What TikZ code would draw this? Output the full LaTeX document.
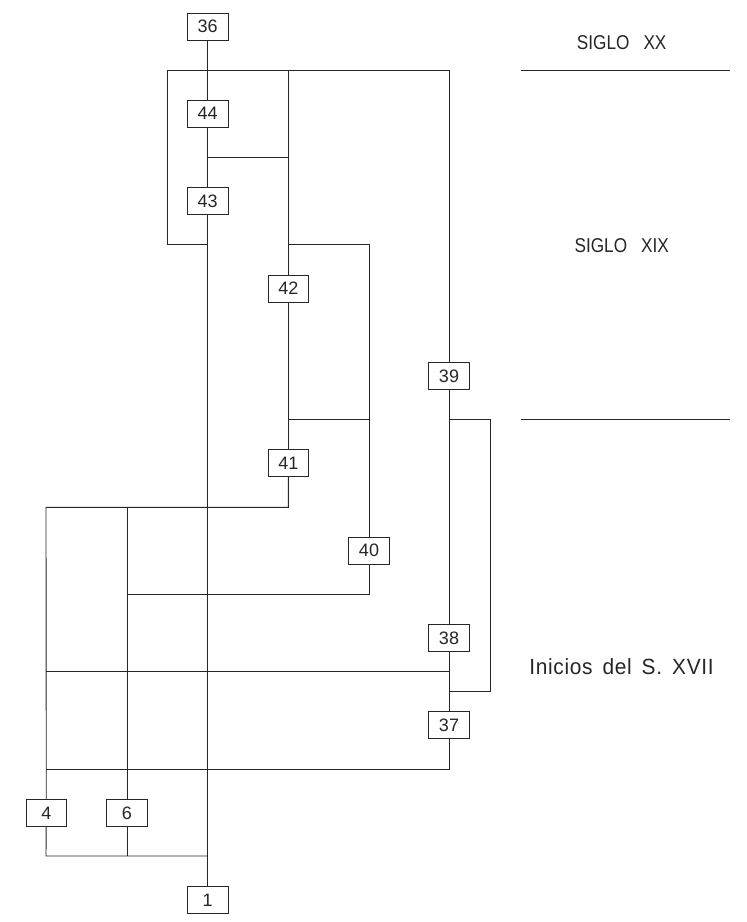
\documentclass[tikz,border=0pt]{standalone}
\usepackage{fontspec}
\setmainfont{Liberation Sans}
\newfontfamily\cadnarrow[FakeStretch=0.86]{Liberation Sans}
\newfontfamily\cadmid[FakeStretch=0.95,LetterSpace=3]{Liberation Sans}
\begin{document}
\begin{tikzpicture}[x=1pt,y=-1pt,
  ln/.style={line width=0.9pt, draw=black!85},
  ubox/.style={draw=black!85, line width=0.9pt, fill=white, minimum width=40.7pt, minimum height=27pt, inner sep=0pt, text=black!85, font=\fontsize{18}{18}\selectfont},
  lbl/.style={inner sep=0pt, text=black!85, font=\cadnarrow\fontsize{20}{20}\selectfont}]
\useasboundingbox (0,0) rectangle (747,922);
% junction coordinates
\coordinate (tL) at (167.3,70.3);
\coordinate (tM) at (288.3,70.3);
\coordinate (tR) at (449,70.3);
\coordinate (lB) at (167.3,244.3);
\coordinate (mB) at (207.7,244.3);
\coordinate (a1) at (207.7,157.7);
\coordinate (a2) at (288.3,157.7);
\coordinate (b1) at (288.3,244.3);
\coordinate (b2) at (369,244.3);
\coordinate (c1) at (288.3,419.7);
\coordinate (c2) at (369,419.7);
\coordinate (d1) at (288.3,507.3);
\coordinate (d2) at (46,507.3);
\coordinate (d3) at (127,507.3);
\coordinate (e1) at (369,594.3);
\coordinate (e2) at (127,594.3);
\coordinate (f1) at (449,419.7);
\coordinate (f2) at (490,419.7);
\coordinate (f3) at (490,691.3);
\coordinate (f4) at (449,691.3);
\coordinate (g1) at (449,671.3);
\coordinate (g2) at (46,671.3);
\coordinate (h1) at (449,769);
\coordinate (h2) at (46,769);
\coordinate (i1) at (46,856);
\coordinate (i2) at (207.7,856);
\coordinate (i3) at (127,856);
% boxes (positions)
\coordinate (p36) at (207.7,26.7);
\coordinate (p44) at (207.7,113.7);
\coordinate (p43) at (207.7,201.3);
\coordinate (p42) at (288.3,288.5);
\coordinate (p39) at (449,376);
\coordinate (p41) at (288.3,463.3);
\coordinate (p40) at (369,550.7);
\coordinate (p38) at (449,638);
\coordinate (p37) at (449,725.3);
\coordinate (p4) at (46.3,812.8);
\coordinate (p6) at (127,812.8);
\coordinate (p1) at (207.7,900);
% connectors
\draw[ln] (p36) -- (p44);
\draw[ln] (p44) -- (p43);
\draw[ln] (p43) -- (p1);
\draw[ln] (mB) -- (lB) -- (tL) -- (tR) -- (p39);
\draw[ln] (tM) -- (p42);
\draw[ln] (a1) -- (a2);
\draw[ln] (b1) -- (b2) -- (p40);
\draw[ln] (p42) -- (p41);
\draw[ln] (c1) -- (c2);
\draw[ln] (p41) -- (d1) -- (d2) -- (p4);
\draw[ln] (d3) -- (p6);
\draw[ln] (p40) -- (e1) -- (e2);
\draw[ln] (p39) -- (p38);
\draw[ln] (f1) -- (f2) -- (f3) -- (f4);
\draw[ln] (p38) -- (p37);
\draw[ln] (g1) -- (g2);
\draw[ln] (p37) -- (h1) -- (h2);
\draw[ln] (p4) -- (i1) -- (i2);
\draw[ln] (p6) -- (i3);
% boxes
\node[ubox] (n36) at (p36) {36};
\node[ubox] (n44) at (p44) {44};
\node[ubox] (n43) at (p43) {43};
\node[ubox] (n42) at (p42) {42};
\node[ubox] (n39) at (p39) {39};
\node[ubox] (n41) at (p41) {41};
\node[ubox] (n40) at (p40) {40};
\node[ubox] (n38) at (p38) {38};
\node[ubox] (n37) at (p37) {37};
\node[ubox] (n4) at (p4) {4};
\node[ubox] (n6) at (p6) {6};
\node[ubox] (n1) at (p1) {1};
% period labels
\node[lbl] (s20) at (621.7,43) {SIGLO\hspace{14pt}XX};
\coordinate (r1a) at (521,70.3);
\coordinate (r1b) at (730,70.3);
\draw[ln] (r1a) -- (r1b);
\node[lbl] (s19) at (621.7,246) {SIGLO\hspace{14pt}XIX};
\coordinate (r2a) at (521,419.7);
\coordinate (r2b) at (730,419.7);
\draw[ln] (r2a) -- (r2b);
\node[lbl, font=\cadmid\fontsize{22}{22}\selectfont] (s17) at (621.5,667) {Inicios\hspace{10pt}del\hspace{10pt}S.\hspace{10pt}XVII};
\end{tikzpicture}
\end{document}
